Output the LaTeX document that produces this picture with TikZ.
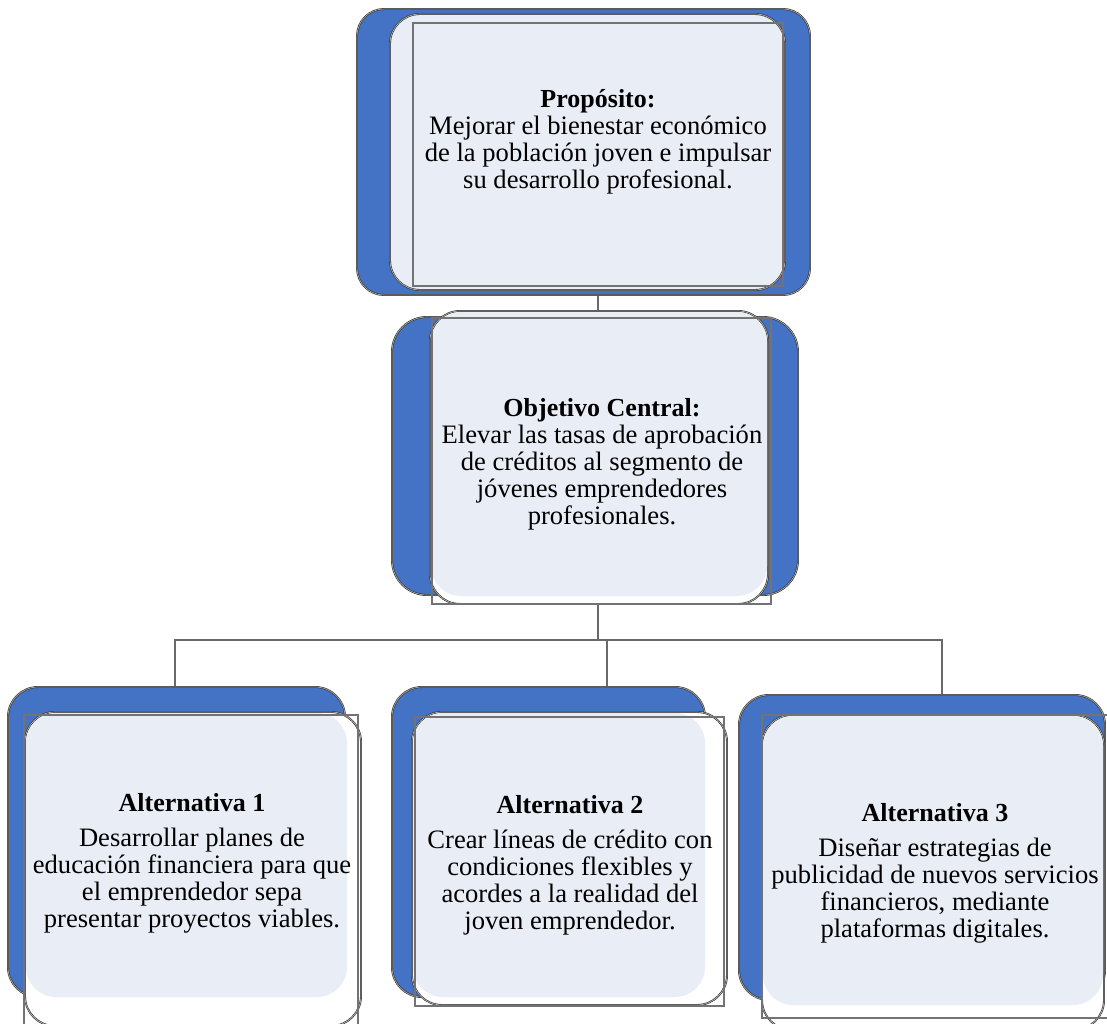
\documentclass[tikz,border=0pt]{standalone}
\usepackage{fontspec}
\setmainfont{Liberation Serif}
\usetikzlibrary{calc}
\definecolor{boxblue}{RGB}{68,114,196}
\definecolor{boxlight}{RGB}{233,237,246}
\definecolor{edgegray}{RGB}{70,70,70}
\definecolor{linkgray}{RGB}{105,105,105}
\pgfdeclarelayer{bg}
\pgfsetlayers{bg,main}
\newcommand\ttl[1]{{\fontsize{13}{13.5}\selectfont\bfseries #1}}
\begin{document}
\begin{tikzpicture}[x=0.5pt,y=-0.5pt,
  blueshape/.style={fill=boxblue, draw=black!80, double=black!35, double distance=0.35pt, line width=0.3pt},
  outershape/.style={fill=white, draw=black!80, double=black!30, double distance=0.35pt, line width=0.3pt},
  lightshape/.style={fill=boxlight},
  framebox/.style={draw=black!55, line width=0.7pt, rectangle, inner sep=0pt},
  txt/.style={align=center, inner sep=0pt, font=\fontsize{13.3}{13.5}\selectfont},
  link/.style={draw=linkgray, line width=0.75pt}
]
\useasboundingbox (0,0) rectangle (1107,1023);

% ---------- Proposito ----------
\draw[blueshape, rounded corners=13.5pt] (357,9) rectangle (810,295);
\draw[outershape, fill=boxlight, rounded corners=15pt] (390,14) rectangle (785,290);
\node[framebox, minimum width=185pt, minimum height=131.5pt] (prop) at (598,154.5) {};
\node[txt] (propT) at (598,142) {\ttl{Propósito:}\\ Mejorar el bienestar económico\\ de la población joven e impulsar\\ su desarrollo profesional.};

% ---------- Objetivo ----------
\draw[blueshape, rounded corners=17.5pt] (392,317) rectangle (798,595);
\draw[outershape, rounded corners=15pt] (430,311) rectangle (768,604);
\fill[lightshape, rounded corners=15pt] (431,312) rectangle (767,596);
\node[framebox, minimum width=169.5pt, minimum height=143pt] (obj) at (601.5,461) {};
\node[txt] (objT) at (602,464) {\ttl{Objetivo Central:}\\ Elevar las tasas de aprobación\\ de créditos al segmento de\\ jóvenes emprendedores\\ profesionales.};

% ---------- Alternativa 1 ----------
\draw[blueshape, rounded corners=15pt] (8,687) rectangle (345,997);
\draw[outershape, rounded corners=15pt] (25,712) rectangle (361,1026);
\fill[lightshape, rounded corners=15pt] (26,713) rectangle (347,997);
\node[framebox, minimum width=167pt, minimum height=157.5pt] (a1) at (191,872.5) {};
\node[txt] (a1T) at (192,863) {\ttl{Alternativa 1}\\[4pt] Desarrollar planes de\\ educación financiera para que\\ el emprendedor sepa\\ presentar proyectos viables.};

% ---------- Alternativa 2 ----------
\draw[blueshape, rounded corners=15pt] (392,687) rectangle (705,997);
\draw[outershape, rounded corners=15pt] (412,712) rectangle (727,1005);
\fill[lightshape, rounded corners=15pt] (413,713) rectangle (705,997);
\node[framebox, minimum width=154.5pt, minimum height=144.5pt] (a2) at (569.5,861.5) {};
\node[txt] (a2T) at (570,865) {\ttl{Alternativa 2}\\[4pt] Crear líneas de crédito con\\ condiciones flexibles y\\ acordes a la realidad del\\ joven emprendedor.};

% ---------- Alternativa 3 ----------
\draw[blueshape, rounded corners=15pt] (739,695) rectangle (1105,1000);
\draw[outershape, rounded corners=15pt] (762,715) rectangle (1104,1030);
\fill[lightshape, rounded corners=15pt] (763,716) rectangle (1103,1005);
\node[framebox, minimum width=175pt, minimum height=151.5pt] (a3) at (937,866.5) {};
\node[txt] (a3T) at (935,873) {\ttl{Alternativa 3}\\[4pt] Diseñar estrategias de\\ publicidad de nuevos servicios\\ financieros, mediante\\ plataformas digitales.};

% ---------- Connectors ----------
\coordinate (bus) at (598,640);
\begin{pgfonlayer}{bg}
\draw[link] (prop.south) -- (prop.south |- obj.north);
\draw[link] (obj.south -| bus) -- (bus) -| ([xshift=-8pt]a1.north);
\draw[link] (bus) -| ([xshift=18.75pt]a2.north);
\draw[link] (bus) -| ([xshift=2.5pt]a3.north);
\end{pgfonlayer}
\end{tikzpicture}
\end{document}
